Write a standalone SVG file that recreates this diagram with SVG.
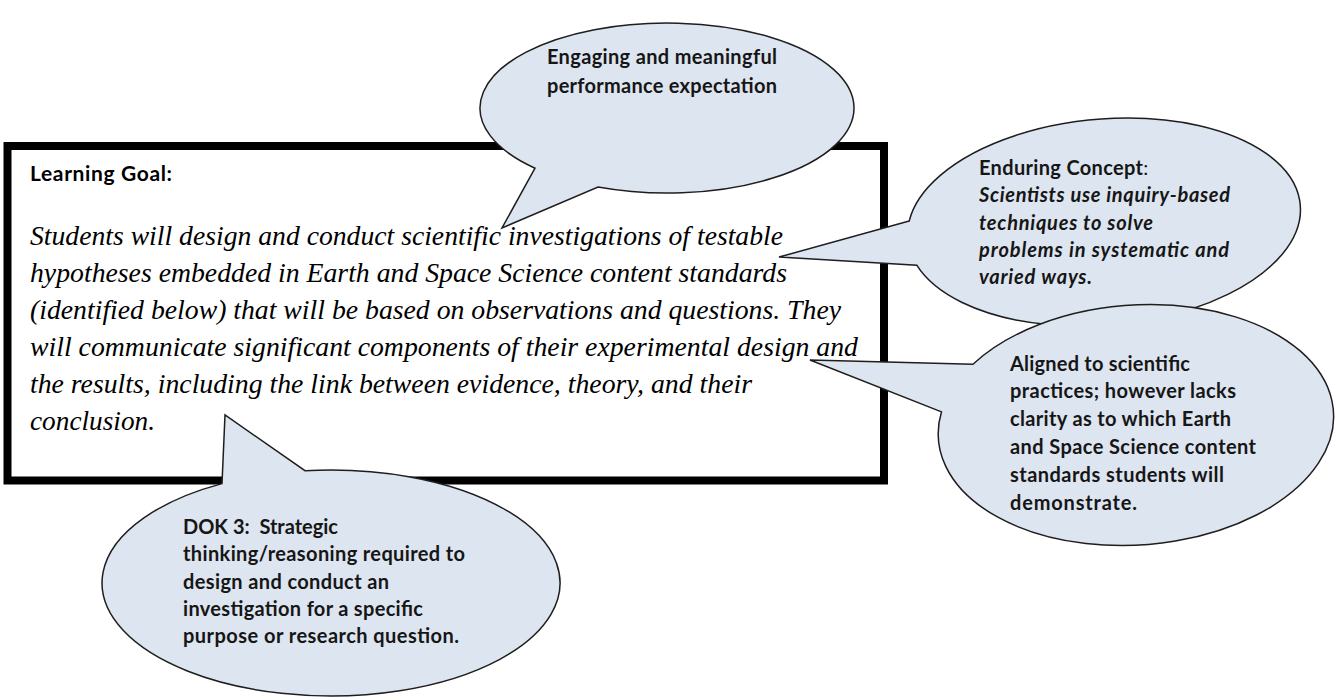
<svg xmlns="http://www.w3.org/2000/svg" width="1336" height="700" viewBox="0 0 1336 700">
<style>
  .bubble { fill: #dde5f0; stroke: #1e1e1e; stroke-width: 1.5; stroke-linejoin: miter; }
  .bt { font-family: Lato, "Open Sans", "Liberation Sans", sans-serif; font-size: 20px; font-weight: bold; fill: #161616; }
  .bi { font-family: Lato, "Open Sans", "Liberation Sans", sans-serif; font-size: 20px; font-style: italic; font-weight: bold; fill: #161616; }
  .goal { font-family: "Liberation Serif", "DejaVu Serif", serif; font-size: 27px; font-style: italic; fill: #000; }
  .lbl { font-family: Lato, "Open Sans", "Liberation Sans", sans-serif; font-size: 21px; font-weight: bold; fill: #000; }
</style>
<rect width="1336" height="700" fill="#ffffff"/>

<g id="learning-goal-box">
  <rect x="7.5" y="146" width="876.5" height="334.5" fill="#ffffff" stroke="#000" stroke-width="8"/>
  <text class="lbl" x="30" y="181" textLength="142">Learning Goal:</text>
  <text class="goal" x="30" y="245" textLength="753" lengthAdjust="spacingAndGlyphs">Students will design and conduct scientific investigations of testable</text>
  <text class="goal" x="30" y="282" textLength="757" lengthAdjust="spacingAndGlyphs">hypotheses embedded in Earth and Space Science content standards</text>
  <text class="goal" x="30" y="319" textLength="811" lengthAdjust="spacingAndGlyphs">(identified below) that will be based on observations and questions. They</text>
  <text class="goal" x="30" y="356" textLength="828" lengthAdjust="spacingAndGlyphs">will communicate significant components of their experimental design and</text>
  <text class="goal" x="30" y="393" textLength="722" lengthAdjust="spacingAndGlyphs">the results, including the link between evidence, theory, and their</text>
  <text class="goal" x="30" y="430" textLength="125" lengthAdjust="spacingAndGlyphs">conclusion.</text>
</g>

<g id="connectors"></g>

<g id="bubble-engaging">
  <path class="bubble" d="M 535 168.2 L 502 228 L 598 187 A 187 85 0 1 0 535 168.2 Z"/>
  <text class="bt" x="547" y="64" textLength="230">Engaging and meaningful</text>
  <text class="bt" x="547" y="93" textLength="230">performance expectation</text>
</g>

<g id="bubble-enduring">
  <path class="bubble" transform="translate(1104 222) rotate(-5)" d="M -194 -17.9 L -326.8 6.6 L -190.3 26.7 A 197 103 0 1 0 -194 -17.9 Z"/>
  <text class="bt" x="979" y="175"><tspan textLength="164">Enduring Concept</tspan><tspan font-weight="normal">:</tspan></text>
  <text class="bi" x="979" y="202" textLength="251">Scientists use inquiry-based</text>
  <text class="bi" x="979" y="230" textLength="174">techniques to solve</text>
  <text class="bi" x="979" y="257" textLength="250">problems in systematic and</text>
  <text class="bi" x="979" y="284" textLength="113">varied ways.</text>
</g>

<g id="bubble-aligned">
  <path class="bubble" transform="translate(1136 425) rotate(-4)" d="M -158.4 -72 L -320.7 -87.6 L -193.1 -26.7 A 198 120 0 1 0 -158.4 -72 Z"/>
  <text class="bt" x="1010" y="371" textLength="180">Aligned to scientific</text>
  <text class="bt" x="1010" y="398" textLength="226">practices; however lacks</text>
  <text class="bt" x="1010" y="426" textLength="221">clarity as to which Earth</text>
  <text class="bt" x="1010" y="454" textLength="246">and Space Science content</text>
  <text class="bt" x="1010" y="482" textLength="214">standards students will</text>
  <text class="bt" x="1010" y="510" textLength="127">demonstrate.</text>
</g>

<g id="bubble-dok">
  <path class="bubble" d="M 222 483.6 L 225 415 L 305 470.7 A 229 113 0 1 1 222 483.6 Z"/>
  <text class="bt" x="183" y="534" textLength="155">DOK 3:&#160; Strategic</text>
  <text class="bt" x="183" y="561" textLength="282">thinking/reasoning required to</text>
  <text class="bt" x="183" y="589" textLength="206">design and conduct an</text>
  <text class="bt" x="183" y="616" textLength="240">investigation for a specific</text>
  <text class="bt" x="183" y="643" textLength="276">purpose or research question.</text>
</g>
</svg>
